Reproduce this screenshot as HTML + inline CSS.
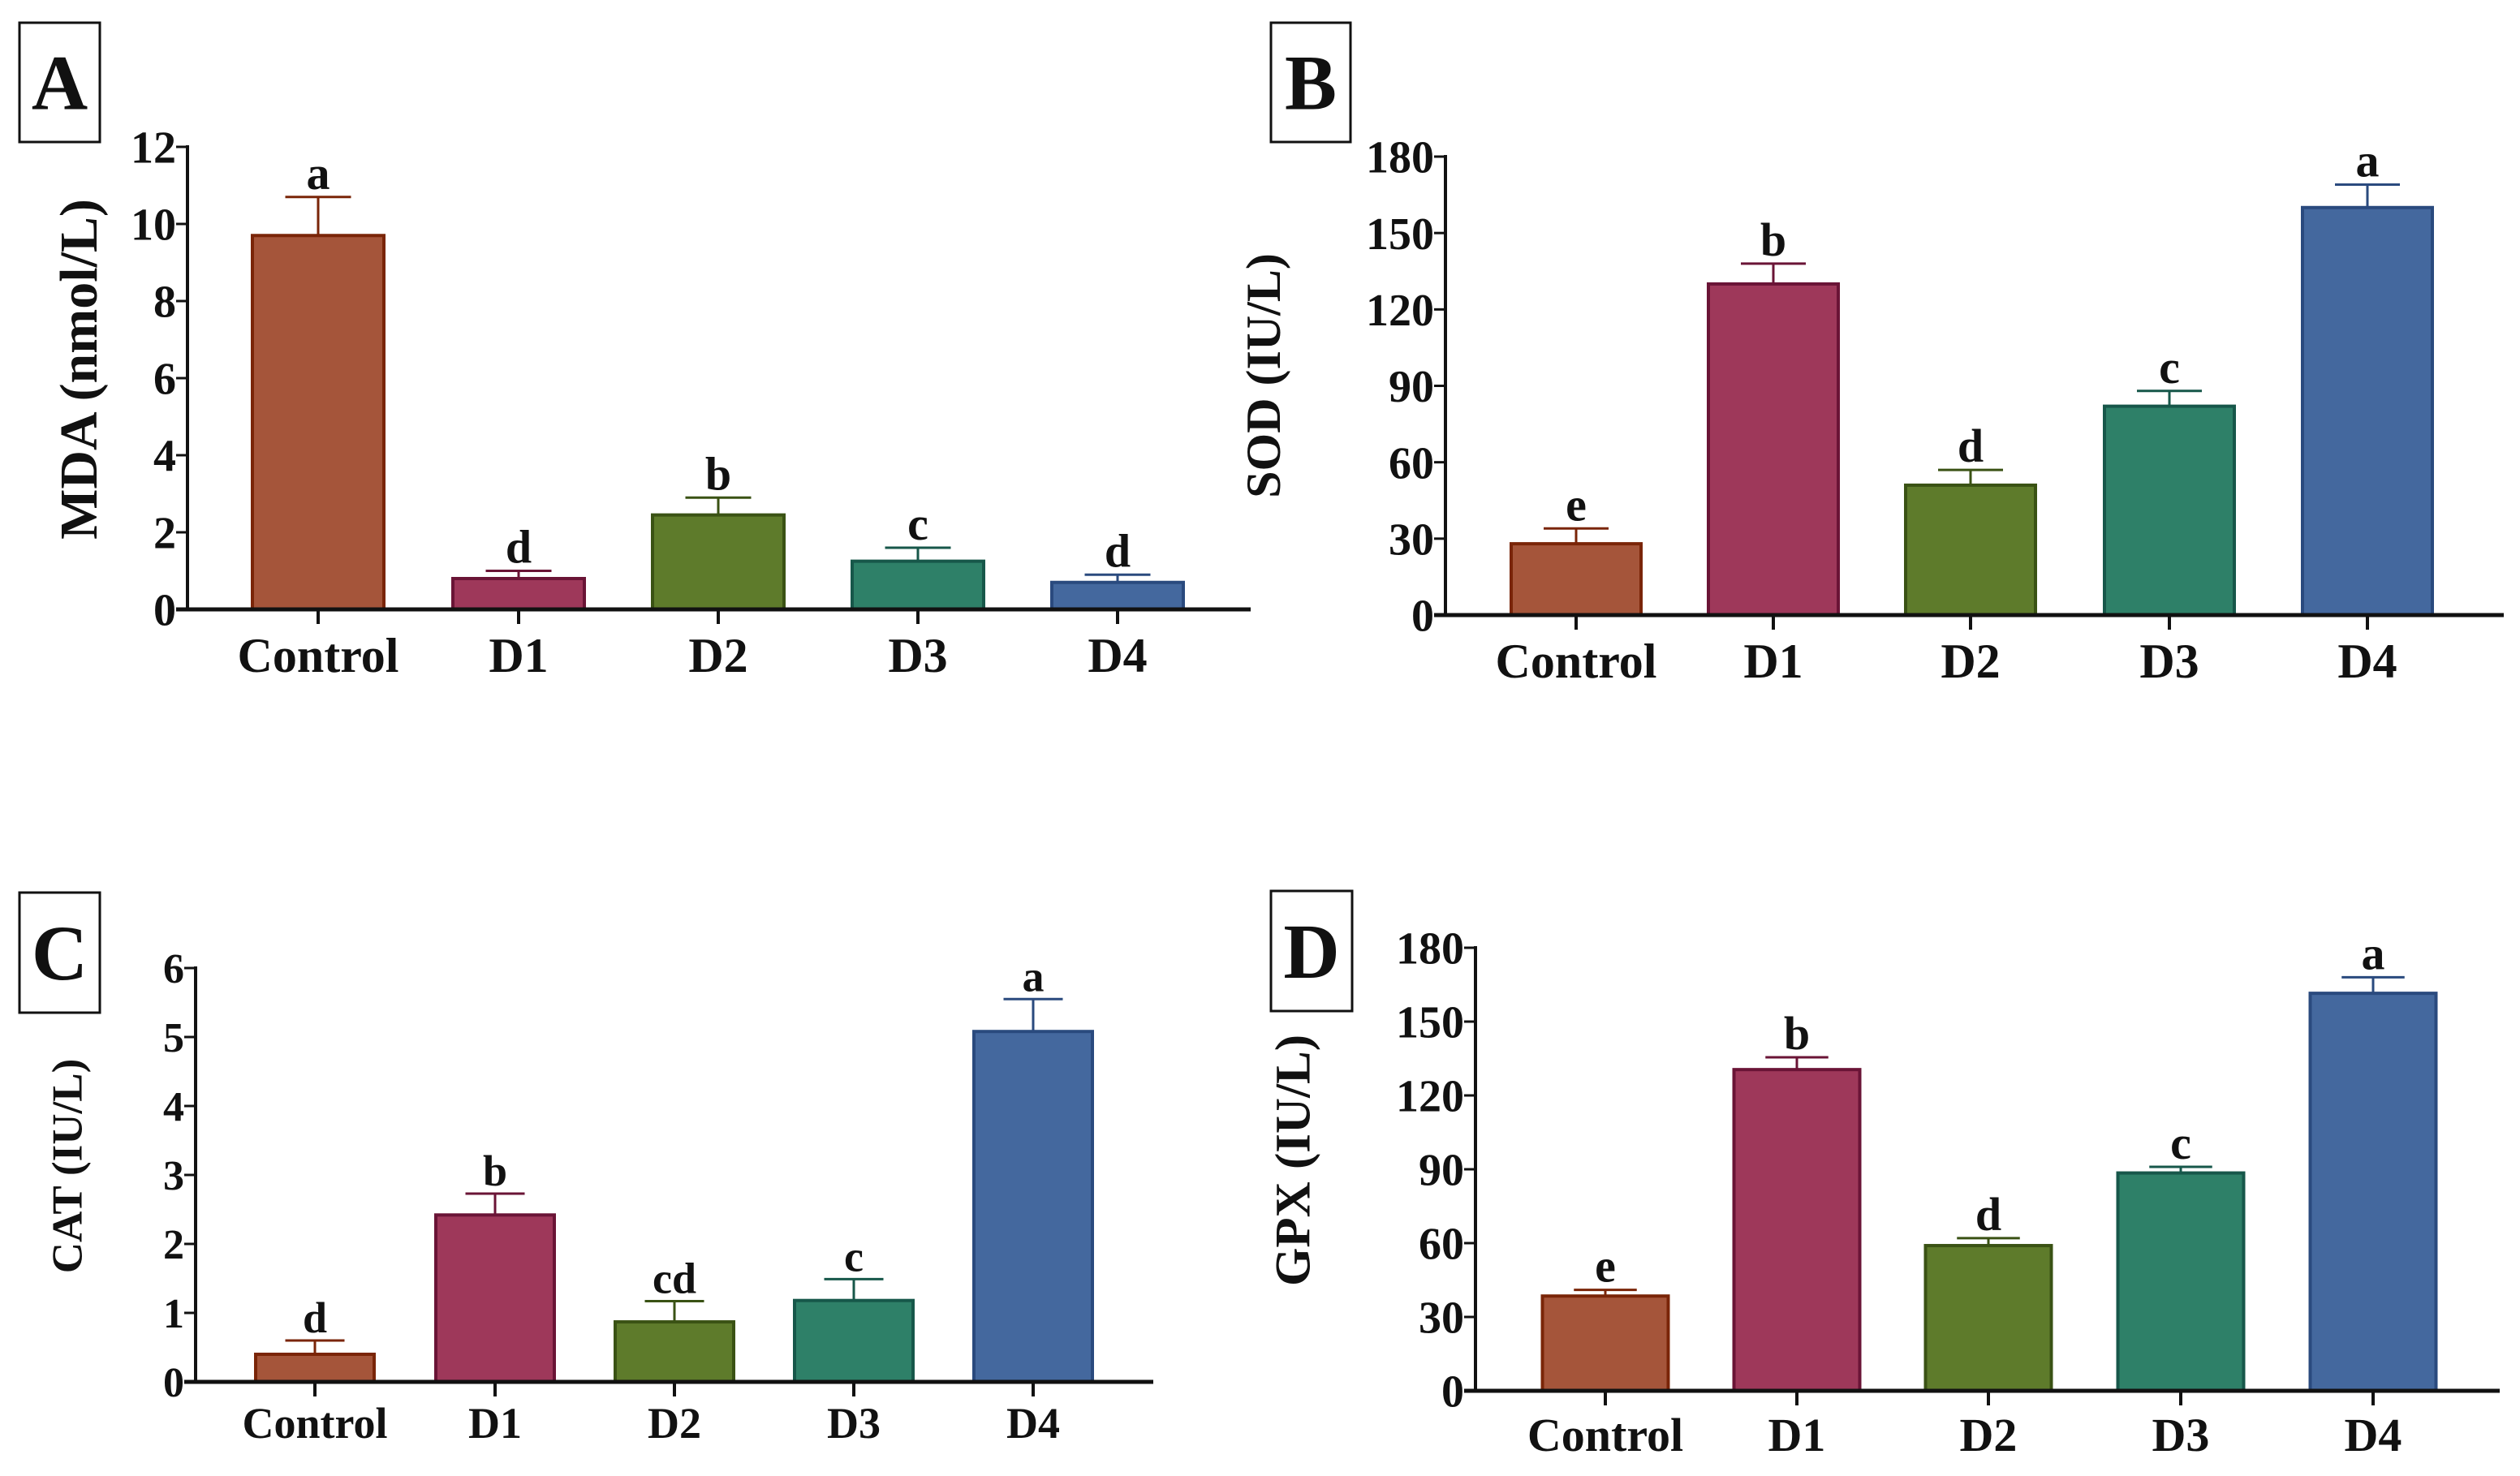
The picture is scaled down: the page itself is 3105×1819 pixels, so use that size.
<!DOCTYPE html>
<html><head><meta charset="utf-8"><style>
html,body{margin:0;padding:0;background:#fff;}
svg{display:block;font-family:"Liberation Serif",serif;font-weight:bold;}
</style></head><body>
<svg id="fig" width="3105" height="1819" viewBox="0 0 3105 1819" xmlns="http://www.w3.org/2000/svg"></svg>
<script>
const categories = ["Control","D1","D2","D3","D4"];
const mdaValues = [9.7,0.8,2.45,1.25,0.7];
const mdaErr = [1.0,0.2,0.45,0.35,0.2];
const mdaLetters = ["a","d","b","c","d"];
const sodValues = [28,130,51,82,160];
const sodErr = [6,8,6,6,9];
const sodLetters = ["e","b","d","c","a"];
const catValues = [0.4,2.42,0.87,1.18,5.08];
const catErr = [0.2,0.31,0.3,0.31,0.47];
const catLetters = ["d","b","cd","c","a"];
const gpxValues = [38.5,130.5,59,88.5,161.5];
const gpxErr = [2.5,5,3,2.5,6.5];
const gpxLetters = ["e","b","d","c","a"];
const mdaTicks = [0,2,4,6,8,10,12];
const sodTicks = [0,30,60,90,120,150,180];
const catTicks = [0,1,2,3,4,5,6];
const gpxTicks = [0,30,60,90,120,150,180];

const fills = ["#a5553a","#9e385a","#5e7b2b","#2e8068","#44689e"];
const strokes = ["#7a2508","#6a1436","#3a5214","#17574a","#2a4a7e"];
const NS = "http://www.w3.org/2000/svg";
const svg = document.getElementById('fig');
function mk(tag, attrs, parent){ const e=document.createElementNS(NS,tag); for(const k in attrs) e.setAttribute(k,attrs[k]); (parent||svg).appendChild(e); return e; }

const panels = [
 {id:"a",label:"A",title:"MDA (nmol/L)",vals:mdaValues,err:mdaErr,lets:mdaLetters,ticks:mdaTicks,max:12,x0:231,xEnd:1541,y0:751,yTop:181,centers:[392,639,885,1131,1377],bw:162,cf:60,tf:56,lf:58,box:[24,28,99,147],tx:96,ty:455,tfs:66},
 {id:"b",label:"B",title:"SOD (IU/L)",vals:sodValues,err:sodErr,lets:sodLetters,ticks:sodTicks,max:180,x0:1781,xEnd:3085,y0:758,yTop:193,centers:[1942,2185,2428,2673,2917],bw:160,cf:60,tf:56,lf:58,box:[1566,28,98,147],tx:1556,ty:463,tfs:60},
 {id:"c",label:"C",title:"CAT (IU/L)",vals:catValues,err:catErr,lets:catLetters,ticks:catTicks,max:6,x0:241,xEnd:1421,y0:1703,yTop:1193,centers:[388,610,831,1052,1273],bw:146,cf:54,tf:52,lf:54,box:[24,1100,99,148],tx:82,ty:1437,tfs:53},
 {id:"d",label:"D",title:"GPX (IU/L)",vals:gpxValues,err:gpxErr,lets:gpxLetters,ticks:gpxTicks,max:180,x0:1818,xEnd:3080,y0:1714,yTop:1168,centers:[1978,2214,2450,2687,2924],bw:155,cf:58,tf:56,lf:58,box:[1566,1098,100,148],tx:1592,ty:1430,tfs:61}
];

panels.forEach(p=>{
  const g = mk('g',{});
  
  
  const yS = v => p.y0 - (v/p.max)*(p.y0-p.yTop);
  const b = mk('rect',{x:p.box[0],y:p.box[1],width:p.box[2],height:p.box[3],fill:'#fff',stroke:'#111','stroke-width':3},g);
  
  
  const bl = mk('text',{x:p.box[0]+p.box[2]/2,y:p.box[1]+p.box[3]/2+33,'font-size':96,'text-anchor':'middle',fill:'#111'},g);
  bl.textContent=p.label;
  
  
  const yt = mk('text',{x:0,y:0,'font-size':p.tfs,'text-anchor':'middle',fill:'#111',transform:`translate(${p.tx+p.tfs*0.35},${p.ty}) rotate(-90)`},g);
  yt.textContent=p.title;
  
  
  p.vals.forEach((v,i)=>{
    const cx=p.centers[i], top=yS(v), et=yS(v+p.err[i]);
    const r = mk('rect',{x:cx-p.bw/2,y:top,width:p.bw,height:p.y0-top,fill:fills[i],stroke:strokes[i],'stroke-width':4},g);
    
    
    const e1 = mk('line',{x1:cx,x2:cx,y1:top,y2:et,stroke:strokes[i],'stroke-width':3},g);
    
    
    const e2 = mk('line',{x1:cx-p.bw/4,x2:cx+p.bw/4,y1:et,y2:et,stroke:strokes[i],'stroke-width':3},g);
    
    
    const lt = mk('text',{x:cx,y:et-10,'font-size':p.lf,'text-anchor':'middle',fill:'#111'},g);
    lt.textContent=p.lets[i];
    
    
    const ct = mk('line',{x1:cx,x2:cx,y1:p.y0,y2:p.y0+18,stroke:'#111','stroke-width':4},g);
    
    
    const cl = mk('text',{x:cx,y:p.y0+p.cf*1.28,'font-size':p.cf,'text-anchor':'middle',fill:'#111'},g);
    cl.textContent=categories[i];
    
    
  });
  p.ticks.forEach((t,i)=>{
    const y=yS(t);
    const tk = mk('line',{x1:p.x0-14,x2:p.x0,y1:y,y2:y,stroke:'#111','stroke-width':3},g);
    
    
    const tl = mk('text',{x:p.x0-14,y:y+p.tf*0.35,'font-size':p.tf,'text-anchor':'end',fill:'#111'},g);
    tl.textContent=t;
    
    
  });
  const ya = mk('line',{x1:p.x0,x2:p.x0,y1:p.yTop-2,y2:p.y0+2,stroke:'#111','stroke-width':4},g);
  
  
  const xa = mk('line',{x1:p.x0-14,x2:p.xEnd,y1:p.y0,y2:p.y0,stroke:'#111','stroke-width':5},g);
  
  
});
</script>
</body></html>
